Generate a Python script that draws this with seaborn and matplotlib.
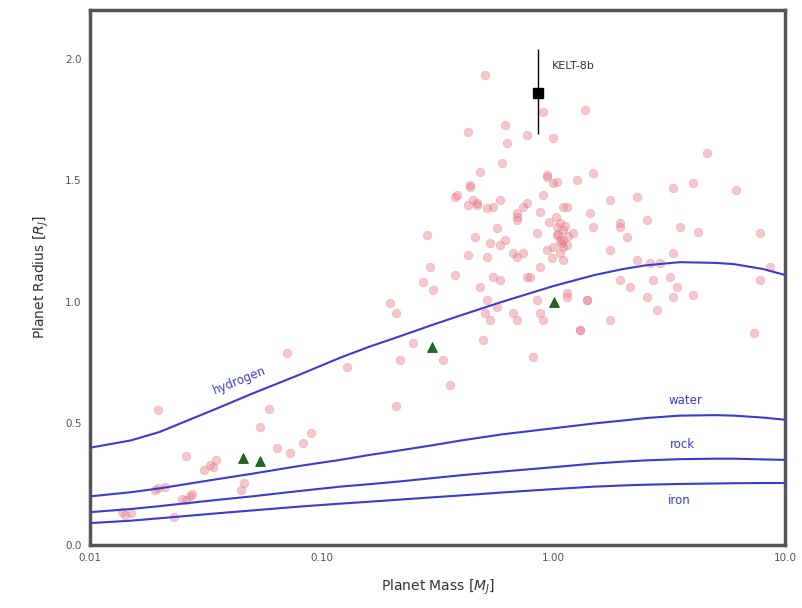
import numpy as np
import pandas as pd
import matplotlib
matplotlib.use("Agg")
import matplotlib.pyplot as plt
import seaborn as sns

# ---- data -----------------------------------------------------------
planet_mass = [
    0.0197, 0.0138, 0.0142, 0.0150, 0.019, 0.0197, 0.021, 0.025, 0.026, 0.027,
    0.0275, 0.026, 0.023, 0.031, 0.033, 0.035, 0.034, 0.046, 0.045, 0.059,
    0.054, 0.071, 0.064, 0.073, 0.083, 0.09, 0.128, 0.21,
    0.507, 0.428, 1.37, 0.902, 0.618, 0.769, 0.995, 0.631, 0.600, 0.482,
    0.436, 0.384, 0.428, 0.468, 0.548, 0.938, 0.995, 1.26, 1.48, 0.902,
    0.697, 0.740, 1.10, 1.067,
    4.6, 4.0, 3.28, 1.75, 2.30, 2.54, 1.44, 1.94, 1.145, 1.216,
    2.08, 1.48, 1.94, 3.52, 4.2, 1.75, 3.28, 2.30, 2.61, 2.88,
    1.94, 2.14, 2.69, 3.18, 3.41, 4.0, 3.28, 2.54, 1.40, 1.145,
    2.80, 1.75, 1.30, 1.10, 1.067, 7.8, 7.3, 8.6, 7.8, 6.1,
    0.938, 1.037, 0.436, 0.376, 0.45, 0.468, 0.516, 0.589, 0.697, 0.697,
    0.769, 0.875, 0.571, 0.284, 0.459, 0.532, 0.589, 0.618, 0.849, 1.037,
    1.10, 1.067, 1.037, 1.10, 1.145, 1.10, 0.516, 0.428, 0.697, 0.938,
    0.376, 0.293, 0.274, 0.302, 0.548, 0.589, 0.482, 0.769, 0.875, 0.516,
    0.507, 0.532, 0.571, 0.670, 0.697, 0.849, 0.875, 0.902, 0.497, 0.817,
    0.334, 0.197, 0.21, 0.248, 0.218, 0.358, 1.30, 1.40, 1.145, 0.793,
    0.995, 0.74, 0.67, 1.05, 1.12, 1.08, 0.96, 1.16, 0.98, 1.02,
]
planet_radius = [
    0.555, 0.135, 0.125, 0.13, 0.225, 0.235, 0.24, 0.19, 0.185, 0.20,
    0.21, 0.365, 0.115, 0.31, 0.33, 0.35, 0.32, 0.255, 0.225, 0.56,
    0.485, 0.79, 0.40, 0.38, 0.42, 0.46, 0.73, 0.57,
    1.934, 1.70, 1.79, 1.782, 1.728, 1.687, 1.675, 1.654, 1.572, 1.535,
    1.473, 1.440, 1.399, 1.399, 1.391, 1.514, 1.490, 1.502, 1.531, 1.440,
    1.350, 1.391, 1.391, 1.325,
    1.613, 1.490, 1.469, 1.420, 1.432, 1.337, 1.366, 1.325, 1.391, 1.284,
    1.267, 1.309, 1.309, 1.309, 1.288, 1.214, 1.202, 1.173, 1.160, 1.160,
    1.091, 1.062, 1.091, 1.103, 1.062, 1.029, 1.021, 1.021, 1.008, 1.037,
    0.967, 0.926, 0.885, 1.296, 1.255, 1.284, 0.872, 1.144, 1.091, 1.46,
    1.523, 1.494, 1.481, 1.432, 1.420, 1.407, 1.387, 1.420, 1.366, 1.337,
    1.407, 1.370, 1.305, 1.276, 1.267, 1.243, 1.235, 1.255, 1.284, 1.309,
    1.226, 1.202, 1.276, 1.255, 1.235, 1.17, 1.185, 1.193, 1.185, 1.214,
    1.111, 1.144, 1.082, 1.049, 1.103, 1.091, 1.062, 1.103, 1.144, 1.008,
    0.955, 0.926, 0.979, 0.955, 0.926, 1.008, 0.955, 0.926, 0.844, 0.774,
    0.761, 0.996, 0.955, 0.831, 0.761, 0.658, 0.885, 1.008, 1.021, 1.103,
    1.226, 1.20, 1.20, 1.28, 1.31, 1.24, 1.33, 1.27, 1.18, 1.35,
]

# composition model curves
model_mass = [0.01, 0.015, 0.02, 0.035, 0.05, 0.08, 0.12, 0.16, 0.22, 0.3,
              0.4, 0.6, 1.0, 1.5, 2.0, 2.5, 3.5, 5.0, 6.0, 8.0, 10.0]
hydrogen_r = [0.40, 0.43, 0.465, 0.56, 0.622, 0.70, 0.77, 0.815, 0.86, 0.905,
              0.945, 1.00, 1.065, 1.11, 1.135, 1.15, 1.163, 1.16, 1.155, 1.135, 1.11]
water_r = [0.20, 0.217, 0.233, 0.27, 0.293, 0.325, 0.35, 0.37, 0.39, 0.41,
           0.43, 0.455, 0.48, 0.50, 0.512, 0.522, 0.532, 0.534, 0.532, 0.524, 0.515]
rock_r = [0.135, 0.148, 0.16, 0.185, 0.20, 0.222, 0.24, 0.25, 0.262, 0.275,
          0.287, 0.302, 0.32, 0.335, 0.343, 0.348, 0.353, 0.355, 0.355, 0.352, 0.35]
iron_r = [0.09, 0.10, 0.11, 0.13, 0.142, 0.158, 0.17, 0.178, 0.187, 0.196,
          0.204, 0.216, 0.23, 0.24, 0.245, 0.248, 0.251, 0.253, 0.254, 0.255, 0.255]

# solar-system planets
solar_mass = [0.0457, 0.054, 0.30, 1.0]
solar_radius = [0.357, 0.346, 0.815, 1.0]

# KELT-8b
kelt_mass = [0.86]
kelt_radius = [1.86]
kelt_err_up = [0.18]
kelt_err_lo = [0.17]

# ---- plot -----------------------------------------------------------
sns.set_theme(style="white")
fig = plt.figure(figsize=(8.03, 6.08), dpi=100)
ax = fig.add_axes([0.112, 0.1036, 0.866, 0.880])

pts = pd.DataFrame({"mass": planet_mass, "radius": planet_radius})
sns.scatterplot(data=pts, x="mass", y="radius", ax=ax, color="#f07080",
                alpha=0.4, s=38, edgecolor="#c08888", linewidth=0.5, zorder=2)

n = len(model_mass)
curves = pd.DataFrame({
    "mass": model_mass * 4,
    "radius": hydrogen_r + water_r + rock_r + iron_r,
    "comp": ["hydrogen"] * n + ["water"] * n + ["rock"] * n + ["iron"] * n,
})
for comp, g in curves.groupby("comp", sort=False):
    sns.lineplot(data=g, x="mass", y="radius", ax=ax, color="#3b3bd0",
                 linewidth=1.5, zorder=3, legend=False)

sol = pd.DataFrame({"mass": solar_mass, "radius": solar_radius})
sns.scatterplot(data=sol, x="mass", y="radius", ax=ax, marker="^",
                color="#1e6b1e", s=50, edgecolor="#0f3f0f", linewidth=0.5, zorder=4)

ax.errorbar(kelt_mass, kelt_radius, yerr=[kelt_err_lo, kelt_err_up], fmt="s",
            color="black", ms=7, elinewidth=1.0, capsize=0, zorder=5)
ax.text(0.98, 1.97, "KELT-8b", fontsize=8, color="#333333", ha="left", va="center")

ax.text(0.044, 0.675, "hydrogen", fontsize=8.5, color="#3b3bd0", rotation=22,
        ha="center", va="center")
ax.text(3.7, 0.595, "water", fontsize=8.5, color="#3b3bd0", ha="center", va="center")
ax.text(3.6, 0.415, "rock", fontsize=8.5, color="#3b3bd0", ha="center", va="center")
ax.text(3.5, 0.185, "iron", fontsize=8.5, color="#3b3bd0", ha="center", va="center")

ax.set_xscale("log")
ax.set_xlim(0.01, 10.0)
ax.set_ylim(0.0, 2.2)
ax.set_xticks([0.01, 0.1, 1.0, 10.0])
ax.set_xticklabels(["0.01", "0.10", "1.00", "10.0"])
ax.set_yticks([0.0, 0.5, 1.0, 1.5, 2.0])
ax.set_yticklabels(["0.0", "0.5", "1.0", "1.5", "2.0"])
ax.minorticks_off()
ax.tick_params(axis="both", labelsize=7.5, colors="#555555", length=0, pad=6)
ax.set_xlabel(r"Planet Mass [$M_J$]", fontsize=10, color="#333333", labelpad=10)
ax.set_ylabel(r"Planet Radius [$R_J$]", fontsize=10, color="#333333", labelpad=10)
for sp in ax.spines.values():
    sp.set_color("#555555")
    sp.set_linewidth(2.5)
ax.grid(False)

fig.savefig("out.png", dpi=100)
